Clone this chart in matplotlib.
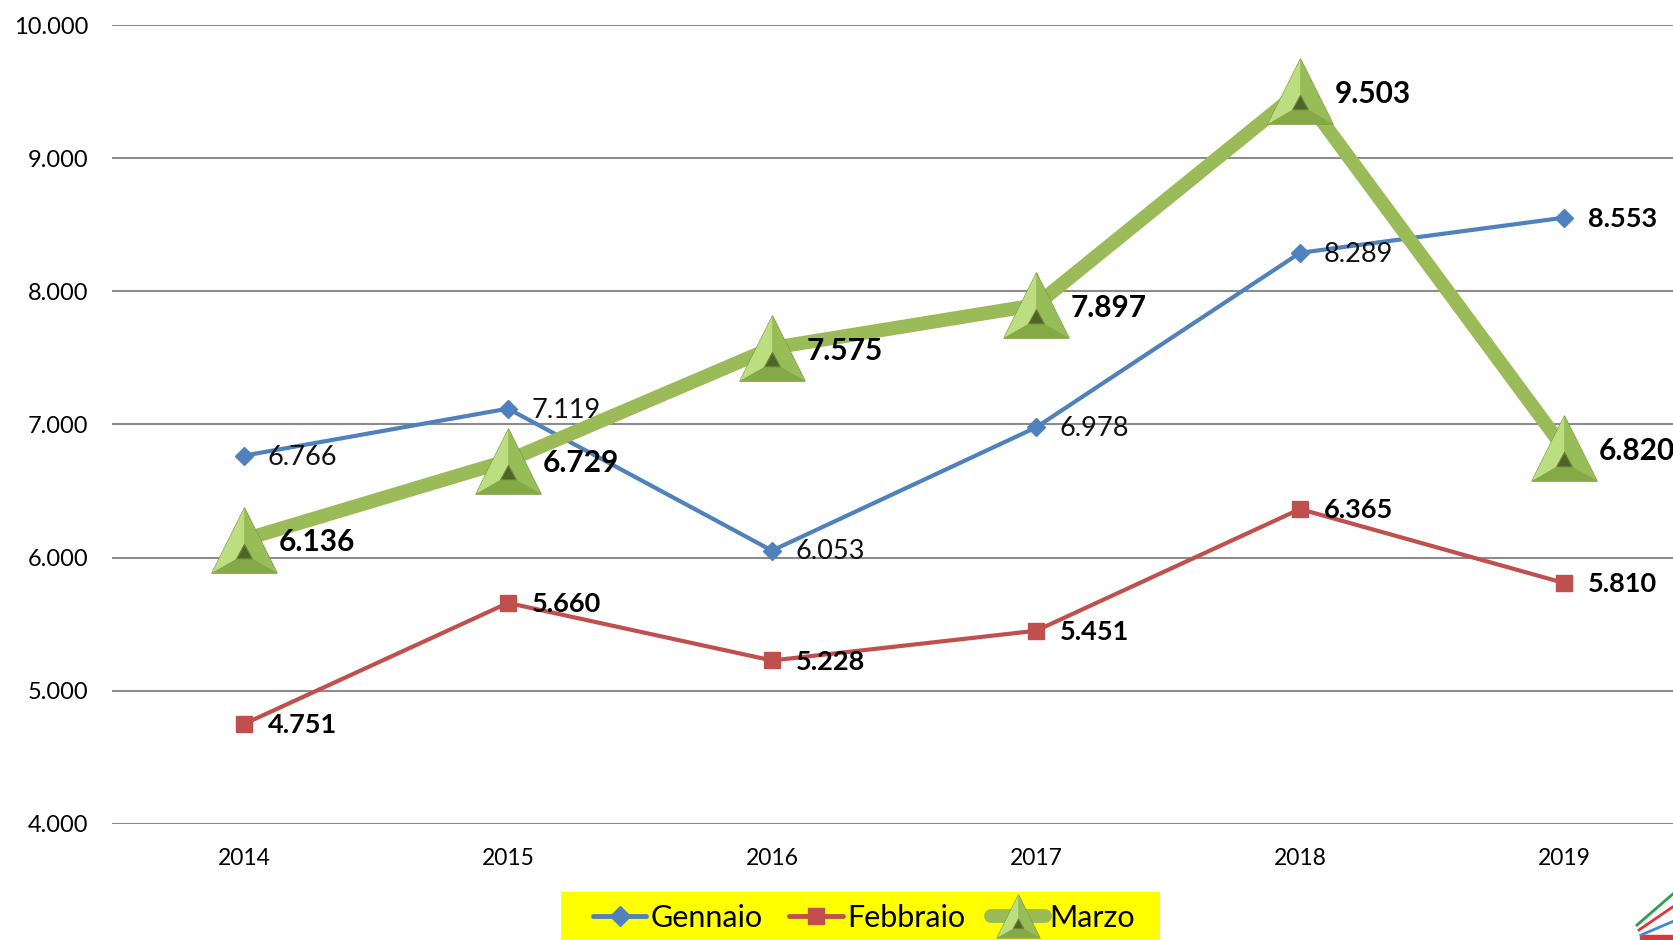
import matplotlib
matplotlib.use("Agg")
import matplotlib.pyplot as plt
from matplotlib.lines import Line2D
from matplotlib.patches import Rectangle
from matplotlib.path import Path
from matplotlib.legend_handler import HandlerTuple

years = ["2014", "2015", "2016", "2017", "2018", "2019"]
gennaio = [6766, 7119, 6053, 6978, 8289, 8553]
febbraio = [4751, 5660, 5228, 5451, 6365, 5810]
marzo = [6136, 6729, 7575, 7897, 9503, 6820]
yticks = [4000, 5000, 6000, 7000, 8000, 9000, 10000]

FONT = "Lato"
plt.rcParams['font.family'] = [FONT, 'DejaVu Sans']

C_GEN = "#4F81BD"
C_FEB = "#C0504D"
C_MAR = "#9BBB59"

def fmt(v):
    return f"{v/1000:.3f}"

# pyramid marker facets (marker-space shapes; all share the same extent)
A, BL, BR = (0, 1), (-1, -1), (1, -1)
IA, IL, IR = (0, -0.12), (-0.24, -0.56), (0.24, -0.56)
def poly(*pts, anchor=False):
    pts = list(pts) + [pts[0]]
    verts = list(pts)
    codes = [Path.MOVETO] + [Path.LINETO] * (len(pts) - 2) + [Path.CLOSEPOLY]
    if anchor:  # zero-size subpath so scaling matches the outer triangle
        verts = [A, A] + verts
        codes = [Path.MOVETO, Path.LINETO] + codes
    return Path(verts, codes)
M_OUT = poly(A, BL, BR)
M_LEFT = poly(A, BL, IL, IA)
M_RIGHT = poly(A, IA, IR, BR)
M_BOT = poly(BL, BR, IR, IL)
M_IN = poly(IA, IL, IR, anchor=True)
facets = [(M_OUT, "#8FB34F", "#7A9A3C"), (M_LEFT, "#BCDD80", "none"),
          (M_RIGHT, "#97BD59", "none"), (M_BOT, "#86A947", "none"),
          (M_IN, "#4F6228", "#6B8636")]

W, H = 1674, 940
fig = plt.figure(figsize=(W/100, H/100), dpi=100)
ax = fig.add_axes([112/W, (940-824)/H, 1584/W, (824-25)/H])

x = list(range(len(years)))
MS = 47

ax.plot(x, gennaio, color=C_GEN, lw=3, marker="D", ms=9.5,
        mfc=C_GEN, mec=C_GEN, zorder=3)
ax.plot(x, febbraio, color=C_FEB, lw=3, marker="s", ms=11.5,
        mfc=C_FEB, mec=C_FEB, zorder=3)
ax.plot(x, marzo, color=C_MAR, lw=10, zorder=4, solid_capstyle="butt")
for i, (m, c, ec) in enumerate(facets):
    ax.plot(x, marzo, ls="none", marker=m, ms=MS, mfc=c,
            mec=ec, mew=0.8, zorder=5 + i)

for xi, v in zip(x, gennaio):
    last = xi == len(x) - 1
    ax.annotate(fmt(v), (xi, v), xytext=(17, -1), textcoords="offset points",
                ha="left", va="center", fontsize=19.5,
                fontweight="bold" if last else "normal",
                color="#000000" if last else "#111111", zorder=12)
for xi, v in zip(x, febbraio):
    ax.annotate(fmt(v), (xi, v), xytext=(17, -1), textcoords="offset points",
                ha="left", va="center", fontsize=19.5, fontweight="bold",
                color="#000000", zorder=12)
for xi, v in zip(x, marzo):
    ax.annotate(fmt(v), (xi, v), xytext=(25, -2), textcoords="offset points",
                ha="left", va="center", fontsize=21.5, fontweight="bold",
                color="#000000", zorder=12, annotation_clip=False)

ax.set_xlim(-0.5, len(years) - 0.5)
ax.set_ylim(4000, 10000)
ax.set_yticks(yticks)
ax.set_yticklabels([fmt(v) for v in yticks], fontsize=17)
ax.set_xticks(x)
ax.set_xticklabels(years, fontsize=16.5)
ax.tick_params(axis="y", length=0, pad=17)
ax.tick_params(axis="x", length=0, pad=17)
ax.grid(axis="y", color="#8C8C8C", lw=1.5)
ax.set_axisbelow(True)
for s in ax.spines.values():
    s.set_visible(False)

# yellow legend background
fig.add_artist(Rectangle((561/W, 0), (1160-561)/W, (940-892)/H,
                         facecolor="#FFFF00", edgecolor="none",
                         transform=fig.transFigure, zorder=1))

LMS = 31
h_gen = Line2D([], [], color=C_GEN, lw=3.5, marker="D", ms=10, mfc=C_GEN,
               mec=C_GEN, solid_capstyle="round")
h_feb = Line2D([], [], color=C_FEB, lw=3.5, marker="s", ms=12, mfc=C_FEB,
               mec=C_FEB, solid_capstyle="round")
h_mar = tuple([Line2D([], [], color=C_MAR, lw=10, solid_capstyle="round")] +
              [Line2D([], [], ls="none", marker=m, ms=LMS, mfc=c, mec=ec, mew=0.8)
               for (m, c, ec) in facets])
leg = fig.legend([h_gen, h_feb, h_mar], ["Gennaio", "Febbraio", "Marzo"],
                 loc="center", bbox_to_anchor=(864/W, 1 - 918/H), ncol=3,
                 fontsize=22, frameon=False,
                 handlelength=1.75, handletextpad=0.15, columnspacing=0.85,
                 borderpad=0.0,
                 handler_map={tuple: HandlerTuple(ndivide=1, pad=0)})
leg.set_zorder(2)

# small logo bottom right
for (x0, y0, x1, y1, c) in [(1637, 925, 1674, 893, "#2E9E4F"),
                            (1639, 930, 1674, 906, "#D9383A"),
                            (1641, 935, 1674, 921, "#3D8BD0")]:
    fig.add_artist(Line2D([x0/W, x1/W], [1 - y0/H, 1 - y1/H], color=c, lw=2,
                          transform=fig.transFigure))
fig.add_artist(Rectangle((1640/W, 0), 34/W, 5/H, color="#D9383A",
                         transform=fig.transFigure))

fig.savefig("out.png", dpi=100)
